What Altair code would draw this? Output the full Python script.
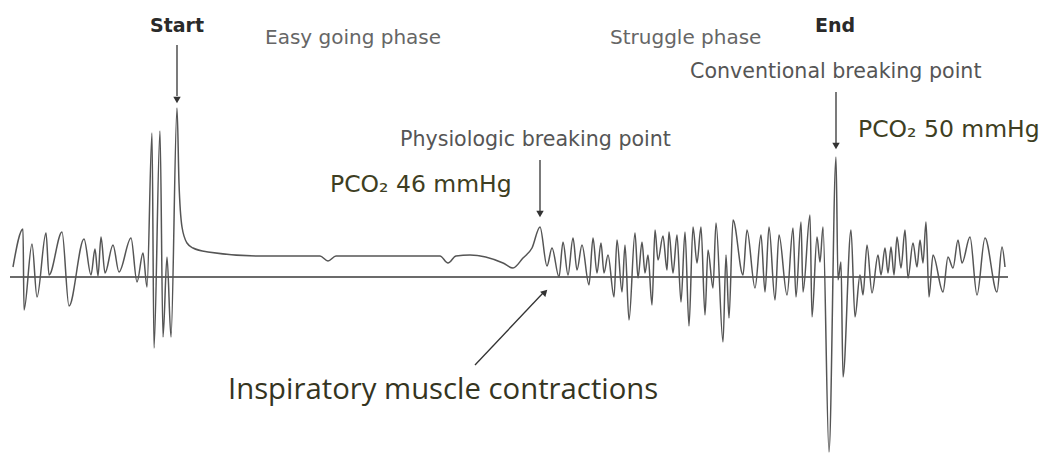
import altair as alt
import pandas as pd

# Waveform (x in px-like time units, amplitude relative to baseline)
wave_x = [13, 23, 24, 32, 37, 46, 49, 62, 69, 84, 91, 95, 98, 101, 105, 113, 119, 131, 137, 143, 147,
          152, 154, 160, 163, 167, 171, 177, 179, 182, 187, 193, 208, 260, 320, 328, 336, 440, 448, 456,
          470, 503, 513, 523, 532, 540, 547, 552, 559, 563, 568, 573, 577, 582, 589, 593, 597, 601, 604,
          608, 614, 617, 622, 625, 629, 635, 638, 642, 645, 648, 652, 655, 658, 663, 667, 669, 673, 677,
          681, 685, 689, 693, 697, 701, 705, 708, 713, 716, 723, 726, 729, 733, 743, 747, 755, 761, 765,
          769, 775, 779, 787, 793, 796, 801, 803, 810, 812, 817, 820, 823, 829, 836, 838, 841, 843, 851,
          855, 860, 863, 867, 872, 878, 881, 885, 888, 891, 894, 897, 901, 905, 908, 913, 917, 920, 923,
          926, 929, 933, 943, 948, 953, 958, 962, 970, 977, 985, 997, 1002, 1005]
wave_amp = [10, 48, -33, 33, -20, 44, 2, 45, -29, 38, 2, 28, 1, 40, 4, 32, 5, 39, -5, 24, -10,
            144, -71, 146, -60, 20, -60, 169, 94, 50, 34, 29, 25, 21, 21, 16, 21, 21, 14, 21,
            22, 14, 9, 19, 29, 50, 11, 29, 0, 35, 2, 39, 7, 32, -8, 39, 4, 34, 4,
            22, -20, 37, -15, 32, -43, 44, -1, 35, 4, 22, -28, 47, 17, 41, 7, 45, 4, 42,
            -25, 45, -49, 50, 14, 50, -38, 27, -11, 54, -65, 22, -41, 57, 2, 47, -11, 42, -15,
            50, -23, 42, -18, 49, -20, 55, -15, 62, -40, 40, 15, 50, -175, 120, -3, 15, -100, 47,
            -40, 2, -18, 32, -16, 22, 2, 29, 4, 30, 2, 40, 9, 47, -1, 34, 10, 37, 14,
            55, -20, 22, -15, 20, 9, 37, 14, 40, -18, 39, -15, 30, 10]

# Baseline
base_x = [10]
base_x2 = [1008]
base_y = [0]

# Arrows (shaft start / end, head position & rotation)
arrow_x = [177, 540, 836, 475]
arrow_y = [232, 117, 185, -88]
arrow_x2 = [177, 540, 836, 543]
arrow_y2 = [181, 65, 134, -16]
head_x = [177, 540, 836, 545]
head_y = [177, 63, 131, -15]
head_angle = [180, 180, 180, 45]

# Labels
bold_text = ["Start", "End"]
bold_x = [177, 835]
bold_y = [251, 251]

phase_text = ["Easy going phase", "Struggle phase"]
phase_x = [265, 610]
phase_y = [239, 239]

bp_text = ["Physiologic breaking point", "Conventional breaking point"]
bp_x = [400, 690]
bp_y = [137, 205]

pco_text = ["PCO\u2082 46 mmHg", "PCO\u2082 50 mmHg"]
pco_x = [330, 858]
pco_y = [92, 147]

insp_text = ["Inspiratory muscle contractions"]
insp_x = [228]
insp_y = [-113]

FONT = "DejaVu Sans"
FONT2 = "Open Sans"
xs = alt.Scale(domain=[8, 1043], nice=False, zero=False)
ys = alt.Scale(domain=[-173, 269], nice=False, zero=False)

wave_df = pd.DataFrame({"x": wave_x, "y": wave_amp})
base_df = pd.DataFrame({"x": base_x, "x2": base_x2, "y": base_y})
arrow_df = pd.DataFrame({"x": arrow_x, "y": arrow_y, "x2": arrow_x2, "y2": arrow_y2})
head_df = pd.DataFrame({"x": head_x, "y": head_y, "a": head_angle})


def X(f="x"):
    return alt.X(f"{f}:Q", scale=xs, axis=None)


def Y(f="y"):
    return alt.Y(f"{f}:Q", scale=ys, axis=None)


baseline = alt.Chart(base_df).mark_rule(color="#3a3a3a", strokeWidth=1.6).encode(
    x=X(), x2="x2:Q", y=Y())

wave = alt.Chart(wave_df).mark_line(color="#555555", strokeWidth=1.5, interpolate="monotone").encode(
    x=X(), y=Y(), order="x:Q")

arrows = alt.Chart(arrow_df).mark_rule(color="#333333", strokeWidth=1.3).encode(
    x=X(), y=Y(), x2="x2:Q", y2="y2:Q")

heads = alt.Chart(head_df).mark_point(shape="triangle-up", filled=True, color="#333333",
                                      opacity=1, size=55).encode(
    x=X(), y=Y(), angle=alt.Angle("a:Q", scale=None))


def texts(t, x, y, size, color, weight="normal", align="left", font=FONT):
    df = pd.DataFrame({"t": t, "x": x, "y": y})
    return alt.Chart(df).mark_text(font=font, fontSize=size, color=color, fontWeight=weight,
                                   align=align, baseline="middle").encode(
        x=X(), y=Y(), text="t:N")


layers = [
    baseline, wave, arrows, heads,
    texts(bold_text, bold_x, bold_y, 19, "#2a2a2a", "bold", "center"),
    texts(phase_text, phase_x, phase_y, 20, "#666666"),
    texts(bp_text, bp_x, bp_y, 20.6, "#555555"),
    texts(pco_text, pco_x, pco_y, 23.5, "#3e3e22"),
    texts(insp_text, insp_x, insp_y, 29.3, "#35351f", font=FONT2),
]

chart = alt.layer(*layers).properties(
    width=1035, height=442,
    padding={"left": 0, "top": 0, "right": 0, "bottom": 6},
    autosize=alt.AutoSizeParams(type="none"),
    background="white"
).configure_view(stroke=None)

chart.save("out.html", embed_options={"renderer": "svg", "actions": False})
